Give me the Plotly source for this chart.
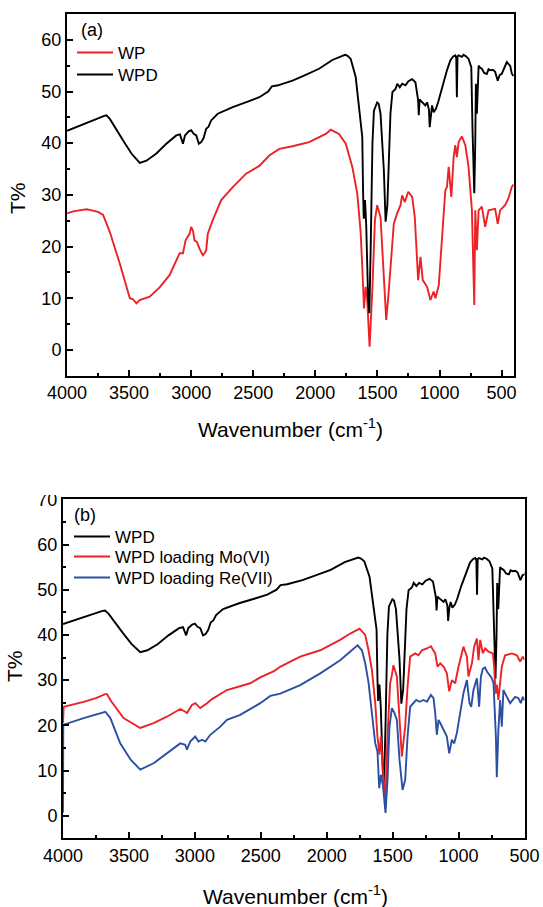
import plotly.graph_objects as go

# ---------------- data ----------------
wn_wpd = [4000, 3950, 3900, 3850, 3800, 3750, 3700, 3682, 3655, 3548, 3481, 3414, 3360, 3280, 3200,
          3120, 3090, 3066, 3050, 3020, 3000, 2980, 2959, 2938, 2919, 2900, 2879, 2860, 2839, 2786,
          2665, 2550, 2451, 2380, 2350, 2300, 2184, 2100, 1970, 1863, 1800, 1761, 1740, 1715, 1675,
          1648, 1622, 1615, 1610, 1600, 1590, 1575, 1565, 1554, 1540, 1528, 1502, 1490, 1475, 1448,
          1434, 1420, 1408, 1395, 1379, 1354, 1340, 1320, 1300, 1274, 1250, 1221, 1194, 1172, 1167,
          1160, 1154, 1130, 1114, 1100, 1085, 1079, 1070, 1060, 1047, 1028, 1010, 980, 940, 913,
          890, 873, 865, 860, 855, 846, 820, 806, 785, 766, 744, 734, 720, 712, 707,
          699, 685, 672, 659, 640, 619, 605, 592, 570, 552, 531, 515, 499, 480, 458,
          440, 431, 418, 405]
t_wpd = [42.4, 42.9, 43.4, 43.9, 44.3, 44.8, 45.3, 45.4, 44.7, 40.5, 38.0, 36.2, 36.6, 38.0, 39.9,
         41.5, 41.7, 39.9, 41.5, 42.3, 42.5, 41.8, 41.5, 39.9, 40.2, 41.0, 42.8, 43.2, 44.4, 45.7,
         47.0, 48.0, 48.9, 50.0, 51.0, 51.2, 52.1, 53.0, 54.4, 56.1, 56.7, 57.1, 56.9, 56.3, 52.8,
         46.3, 41.2, 30.0, 25.4, 29.0, 24.0, 10.0, 7.1, 20.0, 40.0, 46.3, 47.9, 47.6, 45.7, 34.7,
         24.8, 28.0, 36.0, 45.7, 49.9, 50.5, 51.5, 50.8, 51.5, 51.2, 52.0, 52.4, 51.8, 48.3, 45.4,
         48.5, 48.3, 47.8, 47.3, 47.9, 46.5, 43.1, 46.0, 47.3, 46.0, 46.7, 48.0, 50.8, 54.1, 56.0,
         56.8, 57.0, 56.5, 48.9, 56.8, 57.0, 56.7, 57.1, 56.8, 56.3, 54.7, 42.5, 30.3, 40.0, 51.5,
         45.7, 55.0, 54.6, 54.4, 53.6, 53.4, 54.3, 54.1, 54.2, 53.8, 52.1, 53.2, 53.4, 54.5, 55.7,
         55.2, 55.0, 53.5, 53.0]

wn_wp = [4000, 3950, 3900, 3842, 3800, 3750, 3709, 3655, 3575, 3494, 3468, 3441, 3414, 3334, 3254,
         3173, 3093, 3066, 3045, 3026, 3012, 3000, 2985, 2973, 2954, 2933, 2906, 2890, 2879, 2866,
         2826, 2758, 2665, 2558, 2451, 2371, 2290, 2184, 2050, 1916, 1876, 1850, 1809, 1755, 1702,
         1662, 1635, 1622, 1608, 1595, 1582, 1563, 1541, 1520, 1502, 1475, 1448, 1429, 1408, 1381,
         1368, 1341, 1314, 1301, 1279, 1252, 1220, 1199, 1172, 1153, 1135, 1100, 1073, 1047, 1033,
         1006, 980, 953, 940, 926, 905, 886, 873, 860, 846, 820, 792, 766, 739, 730,
         720, 712, 699, 685, 659, 632, 605, 552, 531, 512, 472, 445, 418, 405]
t_wp = [26.4, 26.8, 27.0, 27.2, 27.0, 26.7, 26.1, 22.8, 16.7, 10.0, 9.8, 9.0, 9.65, 10.3, 12.1,
        14.5, 18.7, 18.7, 21.2, 21.9, 22.5, 23.8, 23.0, 21.2, 20.9, 19.6, 18.3, 18.8, 19.3, 22.5,
        25.1, 29.0, 31.5, 34.1, 35.6, 37.6, 38.9, 39.4, 40.2, 41.8, 42.6, 42.3, 41.8, 39.9, 35.4,
        30.2, 22.8, 16.1, 8.0, 12.2, 9.65, 0.6, 11.6, 25.1, 28.0, 25.7, 14.8, 5.8, 11.6, 19.9,
        24.4, 26.4, 28.0, 29.9, 28.6, 30.6, 29.6, 25.7, 13.5, 18.0, 13.5, 12.2, 9.65, 11.3, 10.0,
        12.5, 21.2, 30.9, 31.5, 35.4, 29.6, 37.3, 39.6, 37.3, 40.2, 41.3, 39.6, 35.4, 27.0, 20.0,
        8.7, 27.0, 19.3, 27.0, 27.7, 23.8, 27.0, 27.3, 24.4, 27.0, 28.0, 29.3, 31.5, 32.0]

wn_mo = [4000, 3995, 3844, 3750, 3680, 3666, 3641, 3541, 3414, 3313, 3212, 3111, 3073, 3060, 3022,
         2997, 2959, 2934, 2908, 2870, 2757, 2580, 2504, 2400, 2350, 2201, 2049, 1898, 1822, 1751,
         1708, 1683, 1657, 1632, 1615, 1600, 1589, 1574, 1554, 1539, 1519, 1506, 1494, 1468, 1456,
         1430, 1405, 1387, 1367, 1329, 1304, 1278, 1240, 1210, 1177, 1160, 1139, 1114, 1089, 1071,
         1051, 1026, 1000, 963, 937, 925, 899, 882, 861, 849, 836, 816, 798, 773, 740,
         730, 720, 710, 698, 685, 672, 647, 596, 558, 533, 513, 500]
t_mo = [20.5, 24.1, 25.2, 26.0, 26.9, 26.9, 25.6, 21.6, 19.4, 20.5, 21.9, 23.6, 23.0, 22.7, 24.5,
        24.9, 23.8, 24.3, 24.9, 25.8, 27.8, 29.3, 30.6, 32.0, 33.0, 35.2, 36.6, 38.9, 40.3, 41.4,
        40.0, 36.6, 32.2, 24.9, 17.5, 13.5, 17.5, 10.2, 3.5, 17.5, 29.3, 31.1, 33.3, 30.8, 25.6,
        13.1, 19.7, 28.5, 35.2, 35.9, 35.5, 36.6, 37.0, 37.5, 35.9, 33.0, 33.7, 33.0, 31.5, 27.5,
        30.0, 29.3, 33.0, 37.4, 35.2, 30.8, 33.7, 37.4, 39.2, 34.4, 38.9, 35.9, 37.0, 36.3, 35.9,
        33.0, 27.0, 29.0, 25.6, 30.0, 33.0, 35.5, 35.9, 35.5, 34.1, 35.2, 34.5]

wn_re = [4000, 3998, 3844, 3750, 3679, 3641, 3566, 3487, 3414, 3313, 3212, 3111, 3073, 3060, 3035,
         2997, 2972, 2946, 2921, 2883, 2807, 2757, 2656, 2504, 2428, 2352, 2201, 2049, 1898, 1822,
         1766, 1733, 1708, 1683, 1657, 1632, 1615, 1602, 1589, 1574, 1554, 1539, 1524, 1506, 1486,
         1468, 1448, 1425, 1405, 1387, 1367, 1342, 1321, 1296, 1266, 1240, 1210, 1190, 1177, 1165,
         1152, 1139, 1114, 1089, 1071, 1051, 1033, 1013, 988, 963, 937, 917, 904, 887, 861,
         844, 831, 816, 800, 785, 748, 735, 717, 710, 698, 685, 672, 660, 634, 609,
         571, 546, 528, 513, 500]
t_re = [0.7, 20.1, 21.6, 22.3, 23.0, 21.6, 16.0, 12.4, 10.2, 11.6, 13.8, 16.0, 15.7, 14.6, 16.4,
        17.5, 16.4, 16.8, 16.4, 17.9, 19.7, 21.2, 22.3, 24.9, 26.5, 27.0, 28.9, 31.5, 34.4, 36.3,
        37.7, 36.6, 33.7, 29.5, 22.7, 16.0, 14.2, 6.1, 9.05, 6.8, 0.6, 7.9, 19.7, 23.8, 22.7,
        21.2, 12.4, 5.7, 7.9, 17.5, 24.1, 24.9, 25.6, 25.2, 25.6, 25.2, 26.7, 26.0, 22.7, 17.9,
        21.2, 20.5, 19.0, 17.5, 13.8, 16.8, 16.0, 18.3, 22.7, 27.1, 30.0, 24.9, 24.1, 27.8, 30.4,
        24.1, 30.7, 32.5, 32.8, 31.9, 30.4, 29.3, 17.5, 8.5, 19.0, 25.6, 19.7, 27.8, 26.3, 24.9,
        26.3, 26.0, 24.9, 26.3, 25.5]

x_ticks = [4000, 3500, 3000, 2500, 2000, 1500, 1000, 500]
y_ticks_a = [0, 10, 20, 30, 40, 50, 60]
y_ticks_b = [0, 10, 20, 30, 40, 50, 60, 70]

# ---------------- figure ----------------
W, H = 543, 907
FONT = "Arial, Liberation Sans, sans-serif"
RED = "#ec2227"
BLACK = "#000000"
BLUE = "#2c4ea3"


def px_x(p):
    return p / W


def px_y(p):
    return 1 - p / H


fig = go.Figure()
fig.add_trace(go.Scatter(x=wn_wp, y=t_wp, mode="lines", name="WP",
                         line=dict(color=RED, width=1.9), xaxis="x", yaxis="y", legend="legend"))
fig.add_trace(go.Scatter(x=wn_wpd, y=t_wpd, mode="lines", name="WPD",
                         line=dict(color=BLACK, width=1.9), xaxis="x", yaxis="y", legend="legend2"))
fig.add_trace(go.Scatter(x=wn_wpd, y=t_wpd, mode="lines", name="WPD",
                         line=dict(color=BLACK, width=1.9), xaxis="x2", yaxis="y2", legend="legend3"))
fig.add_trace(go.Scatter(x=wn_mo, y=t_mo, mode="lines", name="WPD loading Mo(VI)",
                         line=dict(color=RED, width=1.9), xaxis="x2", yaxis="y2", legend="legend4"))
fig.add_trace(go.Scatter(x=wn_re, y=t_re, mode="lines", name="WPD loading Re(VII)",
                         line=dict(color=BLUE, width=1.9), xaxis="x2", yaxis="y2", legend="legend5"))

axis_common = dict(showline=True, linewidth=2, linecolor="black", mirror=True, automargin=False,
                   showgrid=False, zeroline=False, ticks="inside", ticklen=6, tickwidth=1.5,
                   tickcolor="black", tickfont=dict(family=FONT, size=18, color="black"))
minor_x = dict(ticks="inside", ticklen=3, tickwidth=1.5, tickcolor="black",
               tick0=4000, dtick=250, showgrid=False)
minor_y = dict(ticks="inside", ticklen=3, tickwidth=1.5, tickcolor="black",
               tick0=0, dtick=5, showgrid=False)


def one_legend(left_px, center_px):
    return dict(x=px_x(left_px), y=px_y(center_px), xanchor="left", yanchor="middle",
                bgcolor="rgba(0,0,0,0)", borderwidth=0, itemwidth=36,
                font=dict(family=FONT, size=17, color="black"))


fig.update_layout(
    width=W, height=H,
    margin=dict(l=0, r=0, t=0, b=0, pad=0, autoexpand=False),
    paper_bgcolor="white", plot_bgcolor="white",
    font=dict(family=FONT, color="black"),
    xaxis=dict(domain=[px_x(67), px_x(514)], range=[4000, 400], anchor="y",
               tickvals=x_ticks, minor=minor_x, **axis_common),
    yaxis=dict(domain=[px_y(375.7), px_y(14)], range=[-5, 65], anchor="x",
               tickvals=y_ticks_a, minor=minor_y, **axis_common),
    xaxis2=dict(domain=[px_x(63), px_x(524.5)], range=[4000, 500], anchor="y2",
                tickvals=x_ticks, minor=minor_x, **axis_common),
    yaxis2=dict(domain=[px_y(838.3), px_y(499.3)], range=[-5, 70], anchor="x2",
                tickvals=y_ticks_b, minor=minor_y, **axis_common),
    legend=one_legend(72, 53),
    legend2=one_legend(72, 75),
    legend3=one_legend(69, 537),
    legend4=one_legend(69, 557),
    legend5=one_legend(69, 578),
    showlegend=True,
)

annotations = [
    dict(text="(a)", x=px_x(79), y=px_y(30), xanchor="left", yanchor="middle",
         font=dict(family=FONT, size=18)),
    dict(text="(b)", x=px_x(72), y=px_y(515), xanchor="left", yanchor="middle",
         font=dict(family=FONT, size=18)),
    dict(text="Wavenumber (cm<sup>-1</sup>)", x=px_x(290.5), y=px_y(428), xanchor="center",
         yanchor="middle", font=dict(family=FONT, size=21)),
    dict(text="Wavenumber (cm<sup>-1</sup>)", x=px_x(295.5), y=px_y(895), xanchor="center",
         yanchor="middle", font=dict(family=FONT, size=21)),
    dict(text="T%", x=px_x(17), y=px_y(198), xanchor="center", yanchor="middle",
         textangle=-90, font=dict(family=FONT, size=21)),
    dict(text="T%", x=px_x(14), y=px_y(666), xanchor="center", yanchor="middle",
         textangle=-90, font=dict(family=FONT, size=21)),
]
for a in annotations:
    a.update(xref="paper", yref="paper", showarrow=False)
fig.update_layout(annotations=annotations)

# white band that trims the top of the "70" label, as in the original crop
fig.add_shape(type="rect", xref="paper", yref="paper", x0=0, x1=px_x(62),
              y0=px_y(495), y1=px_y(470), fillcolor="white", line=dict(width=0),
              layer="above")

fig.write_html(
    "out.html",
    config={"displayModeBar": False},
    post_script="document.body.style.margin='0';document.body.style.overflow='hidden';",
)
